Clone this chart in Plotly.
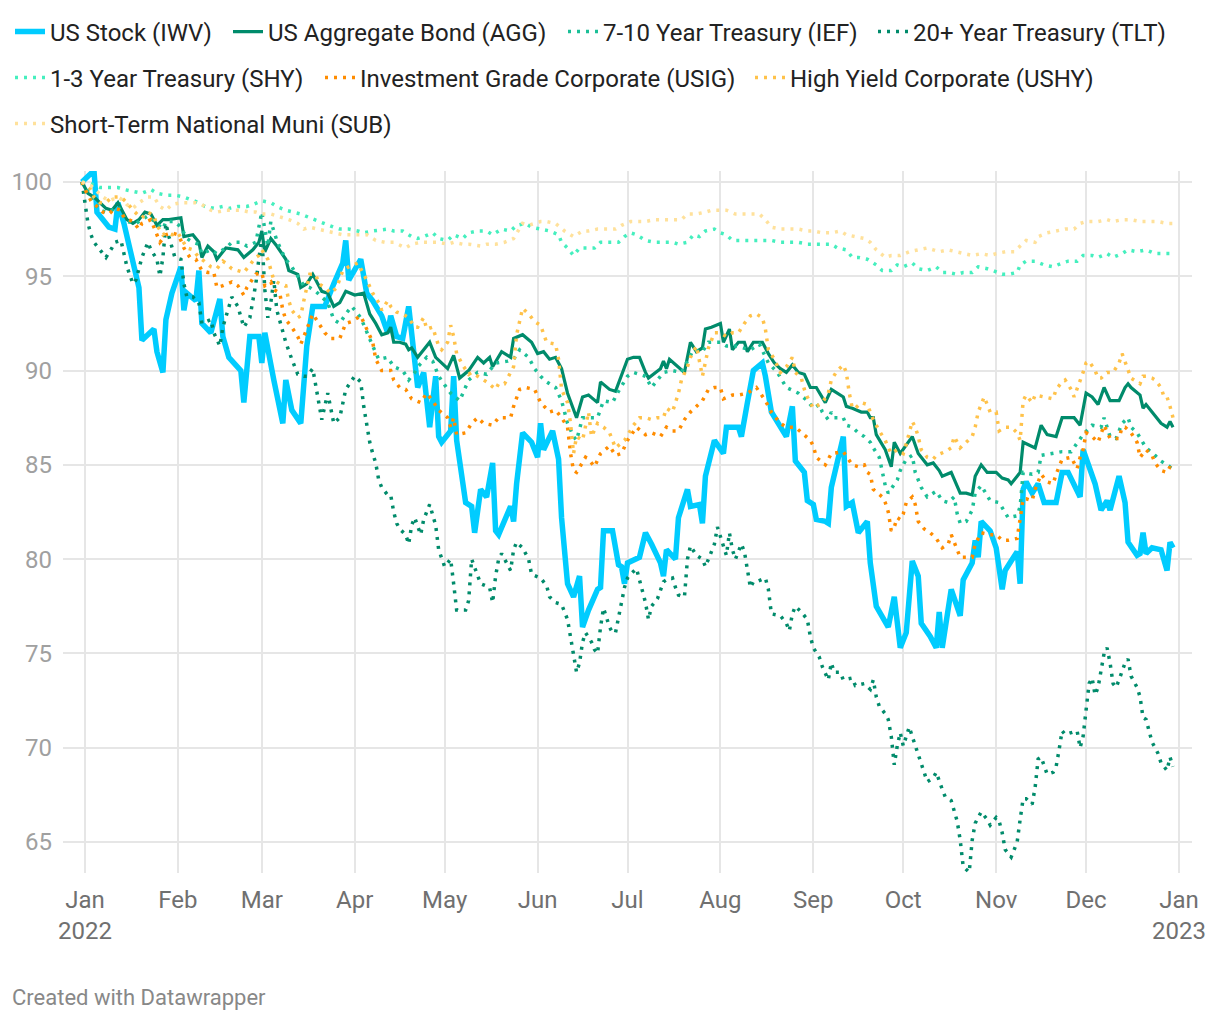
import plotly.graph_objects as go
import pandas as pd

# ---------------- DATA (day offset from 2021-12-31, indexed value) ----------------
BASE_DATE = "2021-12-31"

IWV = [(0,100),(4,100.6),(5,98.4),(9,97.6),(11,97.5),(12,98.9),(14,97.8),(17,95.9),(19,94.4),(20,91.6),
       (24,92.2),(25,91.0),(27,89.9),(28,92.7),(30,94.1),(33,95.5),(34,93.2),(35,94.1),(38,93.7),(39,95.3),
       (40,92.5),(43,92.0),(46,93.8),(47,91.8),(49,90.7),(53,90.0),(54,88.3),(56,91.8),(59,91.8),(60,90.4),
       (61,92.0),(64,89.5),(67,87.2),(68,89.5),(70,87.9),(73,87.2),(75,91.3),(77,93.4),(81,93.4),(84,94.6),
       (87,95.7),(88,96.9),(89,94.8),(93,95.9),(95,94.1),(97,93.7),(100,92.9),(102,92.0),(103,92.9),(105,91.8),
       (107,91.7),(109,93.4),(110,92.0),(112,89.1),(114,89.9),(116,87.0),(118,89.7),(119,86.5),(120,86.2),(123,86.8),
       (124,89.7),(125,86.3),(128,83.0),(130,82.8),(131,81.4),(133,83.7),(135,83.3),(137,85.1),(138,81.5),(139,81.3),
       (143,82.8),(144,82.0),(145,84.0),(147,86.7),(150,86.2),(152,85.4),(153,87.2),(154,85.8),(157,86.8),(158,85.9),
       (159,85.3),(160,82.2),(162,78.7),(164,78.0),(166,79.1),(167,76.4),(169,77.3),(172,78.4),(173,78.5),(174,81.5),
       (177,81.5),(179,79.7),(180,79.6),(181,78.7),(182,79.8),(186,80.1),(188,81.4),(190,80.8),(193,79.8),(194,79.1),
       (195,80.5),(198,80.0),(199,82.2),(202,83.7),(203,82.8),(206,82.9),(207,81.9),(208,84.4),(210,85.8),(211,86.3),
       (214,85.6),(215,87.0),(219,87.0),(220,86.5),(222,88.3),(224,90.0),(227,90.4),(228,89.7),(230,87.8),(234,86.7),
       (235,86.5),(237,88.1),(238,85.2),(241,84.6),(242,83.1),(244,82.9),(245,82.1),(248,82.0),(249,81.9),(250,83.8),
       (253,85.8),(254,86.5),(255,82.8),(257,83.0),(259,81.4),(262,82.0),(263,79.8),(265,77.5),(269,76.4),(271,78.0),
       (273,75.3),(275,76.1),(277,79.9),(279,79.1),(280,76.6),(283,75.9),(285,75.3),(286,77.2),(287,75.3),(290,78.4),
       (293,77.0),(294,78.9),(297,79.8),(298,81.0),(299,80.1),(300,82.0),(303,81.5),(305,80.6),(307,78.4),(308,79.4),
       (310,79.9),(312,80.4),(313,78.7),(314,83.7),(315,84.1),(317,83.5),(319,84.0),(321,83.0),(325,83.0),(327,84.6),
       (329,84.6),(333,83.3),(334,85.8),(335,85.4),(338,84.0),(340,82.6),(342,83.1),(343,82.6),(346,84.4),(348,83.0),
       (349,80.9),(352,80.2),(353,80.3),(354,81.4),(355,80.3),(357,80.6),(360,80.5),(362,79.4),(363,80.9),(364,80.6)]

AGG = [(0,100),(2,99.4),(4,99.2),(6,98.9),(8,98.6),(10,98.5),(12,98.9),(14,98.3),(15,98.0),(17,97.8),
       (19,98.0),(21,98.4),(23,98.3),(25,97.7),(27,98.0),(29,98.0),(33,98.1),(34,97.1),(37,97.2),(39,96.8),
       (40,96.0),(42,96.6),(44,96.3),(45,95.9),(48,96.5),(52,96.4),(54,96.0),(57,96.4),(59,96.8),(60,97.4),
       (61,96.3),(63,97.0),(65,96.6),(68,95.9),(69,95.3),(72,95.1),(73,94.4),(75,94.6),(77,95.1),(80,94.2),
       (82,94.1),(84,93.4),(86,93.6),(88,94.2),(91,94.0),(94,94.1),(96,93.0),(98,92.5),(100,91.9),(102,92.0),
       (103,92.3),(104,91.5),(106,91.5),(108,91.4),(109,91.1),(110,91.2),(112,90.7),(114,91.1),(116,91.5),(118,90.7),
       (122,90.1),(124,90.8),(126,89.6),(129,90.0),(132,90.7),(134,90.4),(136,90.7),(137,90.2),(140,91.0),(143,90.7),
       (144,91.7),(147,91.9),(150,91.5),(152,90.9),(154,91.0),(156,90.6),(158,90.7),(160,90.1),(162,88.8),(165,87.5),
       (167,88.6),(169,88.7),(172,88.3),(173,89.4),(176,89.0),(178,88.9),(180,89.7),(182,90.6),(184,90.7),(186,90.7),
       (188,89.9),(189,89.6),(193,90.1),(194,90.5),(195,90.1),(196,90.6),(201,89.9),(203,91.5),(205,91.0),(207,91.2),
       (208,92.2),(210,92.3),(213,92.5),(214,91.5),(216,92.2),(217,91.1),(219,91.5),(221,91.5),(222,91.0),(224,91.5),
       (227,91.5),(229,90.9),(231,90.4),(233,90.1),(235,89.9),(237,90.3),(239,89.9),(241,89.8),(243,89.1),(245,89.1),
       (248,88.3),(250,89.0),(254,88.6),(255,88.1),(257,88.0),(260,87.8),(262,87.8),(263,87.5),(264,87.5),(265,86.6),
       (268,85.8),(269,85.3),(270,84.9),(271,86.2),(273,85.6),(277,86.5),(279,85.6),(280,85.4),(282,85.0),(284,85.1),
       (286,84.7),(287,84.4),(290,84.6),(293,83.5),(295,83.5),(297,83.4),(298,84.4),(300,85.0),(302,84.6),(305,84.6),
       (307,84.3),(309,84.2),(310,84.0),(312,84.4),(313,84.6),(314,86.2),(318,85.9),(320,87.1),(322,86.6),(325,86.5),
       (327,87.5),(331,87.5),(333,87.1),(335,88.8),(337,88.6),(339,88.2),(341,89.1),(343,88.4),(346,88.4),(348,89.1),
       (349,89.3),(350,89.1),(353,88.7),(354,88.0),(355,88.2),(358,87.6),(360,87.2),(362,87.0),(363,87.3),(364,87.0)]

IEF = [(0,100),(2,99.5),(4,98.9),(6,98.5),(8,98.4),(10,98.5),(12,98.7),(14,98.1),(15,97.9),(18,97.8),
       (22,98.2),(25,97.8),(27,97.5),(28,97.9),(31,97.9),(33,97.6),(35,97.0),(37,96.8),(39,96.7),(40,96.2),
       (43,96.4),(45,96.2),(48,96.5),(50,96.8),(53,96.8),(55,96.6),(58,96.8),(60,98.4),(62,96.6),(63,97.9),
       (65,96.9),(67,96.2),(68,95.9),(70,95.5),(72,95.0),(74,94.5),(76,94.4),(78,94.2),(80,93.9),(82,93.6),
       (84,92.7),(86,92.5),(88,93.0),(90,93.4),(93,92.8),(95,92.0),(97,91.3),(99,90.6),(102,90.7),(104,90.2),
       (107,90.0),(109,89.5),(111,89.9),(112,90.2),(115,90.7),(117,90.5),(119,89.7),(122,89.0),(123,88.8),(126,88.4),
       (129,89.5),(132,89.9),(135,89.8),(138,90.4),(142,90.5),(144,90.6),(146,91.1),(149,90.7),(151,90.1),(153,89.7),
       (155,89.4),(158,89.1),(160,88.4),(162,87.2),(164,86.5),(165,86.3),(167,87.5),(169,87.5),(172,87.5),(174,88.4),
       (177,88.3),(179,88.9),(182,89.7),(184,89.9),(188,89.7),(190,89.1),(194,89.9),(197,90.0),(200,89.9),(204,91.1),
       (207,91.0),(209,91.5),(213,91.5),(215,91.3),(218,91.3),(223,91.1),(226,91.4),(229,90.4),(232,89.9),(235,89.1),
       (239,88.8),(242,88.4),(244,88.0),(246,88.2),(247,87.8),(249,87.4),(250,87.8),(251,87.5),(254,87.5),(255,87.1),
       (257,87.0),(259,86.7),(261,86.5),(263,86.2),(264,85.9),(266,85.4),(267,84.7),(268,83.9),(269,83.5),(272,84.2),
       (273,84.7),(275,85.3),(277,85.5),(278,84.6),(280,83.8),(282,83.3),(285,83.6),(287,83.1),(289,83.0),(291,83.3),
       (292,82.4),(293,81.9),(295,82.0),(297,82.6),(298,83.5),(300,83.9),(303,83.1),(306,83.0),(309,82.2),(312,82.3),
       (313,82.8),(314,84.6),(317,84.5),(319,84.6),(320,85.5),(327,85.7),(330,85.7),(334,86.6),(337,87.1),(340,87.0),
       (341,87.5),(343,86.5),(345,86.4),(347,87.2),(349,87.5),(350,87.0),(352,86.7),(354,86.2),(355,85.9),(358,85.5),
       (360,85.2),(363,84.9),(364,85.1)]

TLT = [(0,100),(1,99.0),(2,97.8),(3,97.2),(4,96.8),(6,96.4),(8,96.0),(10,96.5),(11,96.8),(13,96.9),
       (14,96.2),(15,95.5),(17,94.6),(18,94.8),(20,96.0),(22,96.8),(23,96.4),(25,95.9),(26,95.0),(27,96.0),
       (28,97.8),(29,97.1),(31,96.0),(33,95.9),(34,94.6),(35,93.9),(37,93.9),(39,93.6),(40,92.5),(43,92.7),
       (44,92.0),(46,91.3),(47,92.3),(49,93.4),(50,93.9),(52,93.4),(54,92.3),(56,92.8),(57,93.7),(58,94.6),
       (59,95.9),(60,97.1),(61,94.3),(62,92.8),(63,93.6),(64,94.8),(65,93.2),(67,92.0),(68,91.5),(70,90.6),
       (72,89.8),(74,89.7),(75,89.7),(77,90.1),(79,88.4),(80,87.4),(82,88.8),(84,87.2),(86,87.5),(88,89.0),
       (91,89.7),(93,89.4),(94,88.1),(95,87.0),(96,86.2),(97,85.6),(98,85.1),(99,84.2),(100,83.8),(102,83.4),
       (103,83.4),(104,82.5),(105,81.9),(106,81.6),(108,81.3),(109,80.8),(110,81.8),(111,82.2),(112,81.8),(113,81.3),
       (114,82.1),(116,82.9),(118,81.8),(119,80.5),(121,79.6),(123,80.0),(124,78.7),(125,77.3),(128,77.3),(129,77.8),
       (130,80.0),(132,79.1),(133,78.7),(136,78.5),(137,77.7),(138,79.1),(139,80.0),(140,80.3),(142,79.7),(143,79.4),
       (144,80.5),(145,80.9),(147,80.6),(149,80.0),(150,79.2),(153,79.0),(155,78.6),(156,78.0),(158,77.7),(160,77.6),
       (162,76.8),(163,75.8),(164,74.8),(165,74.0),(166,74.5),(167,75.6),(168,76.1),(170,75.6),(171,75.2),(172,75.0),
       (173,76.4),(174,77.4),(175,76.9),(176,76.4),(177,76.1),(178,76.1),(179,76.9),(180,77.8),(181,78.5),(182,79.0),
       (183,79.2),(185,79.5),(187,78.2),(188,77.7),(189,76.8),(190,77.5),(192,77.9),(193,78.4),(194,78.8),(195,78.9),
       (197,79.0),(198,78.5),(199,78.1),(201,78.0),(202,80.0),(203,80.7),(205,80.2),(207,80.0),(208,79.6),(209,80.0),
       (211,80.8),(212,81.7),(213,81.2),(214,80.6),(215,80.2),(216,81.4),(217,80.5),(218,80.0),(219,80.4),(220,80.8),
       (221,80.4),(222,79.4),(223,78.5),(224,78.8),(225,78.8),(228,79.0),(229,78.4),(230,77.1),(233,77.0),(235,76.6),
       (236,76.2),(237,77.1),(238,77.5),(240,77.2),(242,76.8),(243,75.9),(244,75.3),(246,74.8),(247,74.3),(249,73.6),
       (250,74.5),(251,74.0),(253,74.0),(254,73.6),(257,73.7),(258,73.3),(261,73.4),(263,73.1),(264,73.6),(265,72.7),
       (266,72.2),(268,71.8),(269,71.5),(270,70.6),(271,69.1),(272,70.1),(273,70.8),(274,70.1),(275,70.6),(276,71.1),
       (277,70.6),(279,69.6),(280,69.2),(281,68.7),(282,68.2),(284,68.4),(285,68.7),(287,67.8),(288,67.4),(290,67.2),
       (292,66.1),(293,65.1),(294,63.7),(296,63.4),(297,65.1),(298,66.0),(300,66.6),(302,66.2),(303,65.9),(305,66.3),
       (306,66.1),(307,65.5),(308,64.6),(310,64.2),(312,65.0),(313,66.2),(314,67.3),(315,67.3),(317,67.0),(318,67.9),
       (319,69.4),(320,69.5),(322,68.6),(324,68.7),(325,69.0),(326,69.9),(327,70.9),(328,70.7),(332,70.9),(333,70.0),
       (334,70.6),(335,72.0),(336,73.4),(337,73.7),(338,72.8),(339,73.2),(340,74.0),(341,75.0),(342,75.3),(343,74.5),
       (344,73.4),(345,73.2),(346,73.6),(348,74.5),(349,74.7),(350,73.8),(352,73.2),(353,72.7),(354,71.6),(355,71.5),
       (357,70.3),(359,69.7),(360,69.2),(362,68.8),(363,69.5),(364,69.0)]

SHY = [(0,100),(3,99.9),(6,99.7),(12,99.7),(14,99.6),(17,99.5),(20,99.4),(23,99.6),(25,99.4),(28,99.3),
       (31,99.3),(34,99.2),(37,99.0),(39,98.9),(41,98.7),(44,98.6),(47,98.7),(49,98.6),(52,98.7),(55,98.7),
       (57,98.8),(60,99.0),(63,98.9),(65,98.7),(68,98.5),(71,98.4),(73,98.3),(76,98.1),(79,97.9),(82,97.7),
       (84,97.6),(86,97.5),(89,97.5),(92,97.4),(94,97.3),(97,97.4),(102,97.5),(104,97.4),(107,97.4),(110,97.1),
       (112,97.0),(114,97.1),(117,97.3),(119,97.0),(122,96.9),(124,97.2),(127,97.0),(129,97.3),(132,97.4),(135,97.4),
       (137,97.2),(140,97.5),(143,97.4),(145,97.7),(148,97.8),(150,97.6),(153,97.5),(156,97.4),(159,97.2),(160,96.8),
       (162,96.5),(164,96.1),(166,96.5),(168,96.5),(171,96.5),(173,96.8),(176,96.8),(179,96.8),(181,97.1),(183,97.3),
       (185,97.2),(188,96.9),(191,96.8),(194,96.8),(197,96.8),(199,96.7),(202,96.8),(204,97.2),(206,97.1),(208,97.4),
       (211,97.5),(213,97.3),(215,97.2),(217,96.9),(219,96.9),(222,96.9),(225,96.9),(228,96.9),(230,96.9),(233,96.8),
       (236,96.8),(239,96.8),(242,96.7),(244,96.7),(247,96.7),(250,96.7),(252,96.5),(255,96.4),(257,96.0),(259,96.0),
       (262,95.9),(265,95.6),(267,95.3),(270,95.3),(272,95.6),(274,95.5),(277,95.7),(279,95.4),(282,95.3),(285,95.5),
       (287,95.2),(289,95.2),(292,95.1),(294,95.2),(297,95.2),(299,95.5),(302,95.4),(304,95.3),(307,95.1),(309,95.1),
       (312,95.2),(313,95.6),(315,95.8),(318,95.8),(321,95.6),(324,95.5),(327,95.7),(329,95.8),(332,95.8),(334,96.1),
       (337,96.1),(339,96.0),(342,96.2),(344,96.0),(347,96.2),(349,96.4),(352,96.3),(355,96.4),(358,96.2),(360,96.2),
       (364,96.2)]

USIG = [(0,100),(1,99.6),(3,99.0),(5,98.7),(7,98.4),(9,98.3),(11,98.6),(13,98.5),(14,98.1),(17,97.9),
        (19,97.5),(20,97.8),(23,98.0),(24,97.6),(26,96.8),(28,97.2),(30,97.3),(32,97.2),(33,96.9),(34,96.5),
        (36,96.0),(38,95.9),(40,95.3),(42,95.2),(44,95.2),(45,94.4),(47,94.5),(50,94.7),(52,94.5),(54,94.0),
        (55,94.4),(58,95.1),(60,95.2),(61,94.5),(63,94.7),(64,94.3),(66,94.1),(67,93.2),(68,92.7),(70,92.3),
        (72,91.8),(73,91.4),(74,91.8),(77,93.0),(79,92.5),(81,92.0),(83,91.7),(86,91.7),(88,92.5),(90,92.6),
        (93,92.9),(95,92.2),(97,91.5),(98,90.6),(100,90.0),(103,90.0),(104,89.5),(106,89.1),(108,89.0),(110,88.5),
        (113,88.3),(115,88.8),(117,88.4),(119,87.9),(122,87.5),(123,87.0),(124,87.5),(125,86.6),(128,86.7),(130,87.2),
        (132,87.5),(134,87.2),(137,87.1),(139,87.5),(141,87.5),(143,87.5),(144,88.1),(145,88.5),(146,89.0),(148,89.1),
        (151,89.0),(153,88.3),(156,87.8),(158,87.9),(160,87.5),(162,87.0),(163,85.6),(164,84.7),(165,84.6),(168,85.4),
        (169,85.3),(171,84.9),(173,85.6),(176,86.0),(178,85.5),(180,85.6),(182,86.3),(185,87.0),(188,86.6),(190,86.7),
        (193,86.5),(195,87.0),(197,86.8),(199,86.8),(201,87.4),(203,87.8),(205,88.1),(207,88.4),(209,89.0),(211,89.1),
        (213,89.1),(214,88.5),(217,88.7),(219,88.7),(222,88.8),(224,89.0),(225,89.1),(228,88.4),(230,87.8),(233,87.2),
        (235,87.0),(238,87.0),(240,86.7),(243,86.3),(244,86.0),(245,85.4),(248,85.0),(250,85.6),(254,85.7),(257,85.0),
        (259,84.9),(261,85.0),(262,84.6),(263,84.5),(264,83.7),(267,83.3),(268,83.0),(269,82.5),(270,81.5),(271,81.7),
        (272,82.2),(273,82.1),(274,82.4),(275,83.0),(277,83.3),(278,82.9),(279,82.0),(281,81.6),(283,81.4),(285,81.1),
        (287,80.6),(289,80.8),(290,81.3),(292,80.5),(293,80.1),(295,80.1),(297,80.1),(298,80.8),(299,81.1),(300,81.4),
        (303,81.3),(305,81.3),(307,81.0),(309,81.0),(312,81.1),(313,82.2),(314,83.2),(315,83.2),(317,83.1),(318,83.7),
        (320,84.5),(322,84.1),(324,84.0),(325,84.5),(327,85.3),(330,85.4),(332,84.8),(333,85.4),(334,85.8),(335,86.7),
        (337,86.5),(339,86.2),(340,86.7),(341,87.1),(343,86.4),(346,86.4),(347,87.0),(348,87.0),(350,86.7),(352,86.2),
        (353,85.4),(355,85.8),(357,85.5),(358,85.1),(360,84.7),(362,84.6),(363,84.9),(364,84.6)]

USHY = [(0,100),(3,99.6),(4,99.2),(6,98.9),(8,98.9),(10,99.2),(12,99.2),(13,99.2),(15,98.9),(17,98.5),
        (19,98.2),(20,98.1),(22,98.4),(24,98.2),(25,97.7),(27,97.2),(28,97.3),(30,97.2),(32,97.3),(34,96.8),
        (35,96.5),(37,96.4),(39,96.0),(40,95.9),(43,95.5),(45,95.4),(47,95.8),(48,95.7),(50,95.4),(52,95.3),
        (54,95.2),(56,95.6),(58,96.0),(59,96.1),(60,96.4),(62,95.9),(63,95.3),(64,94.8),(66,94.6),(68,94.5),
        (69,93.7),(70,93.2),(72,92.8),(73,92.9),(74,93.7),(76,95.1),(78,95.1),(79,94.6),(81,94.4),(83,94.1),
        (85,94.4),(87,95.3),(89,95.5),(92,95.7),(95,94.8),(97,94.1),(99,93.6),(100,93.2),(102,93.7),(103,93.4),
        (105,93.1),(107,93.0),(109,92.8),(111,92.3),(112,92.3),(114,92.8),(115,92.2),(117,92.3),(119,91.3),(120,91.1),
        (122,91.5),(123,92.4),(124,91.8),(125,90.9),(127,90.3),(129,89.8),(130,89.9),(133,89.6),(135,89.4),(138,89.0),
        (139,89.3),(141,89.3),(144,90.2),(145,91.9),(147,93.3),(149,93.0),(151,92.6),(153,92.4),(155,91.5),(158,91.4),
        (159,90.6),(160,89.0),(162,88.3),(163,87.2),(164,85.6),(165,86.5),(167,86.3),(169,87.8),(170,86.5),(172,87.2),
        (174,87.0),(176,86.7),(178,85.9),(181,86.3),(184,87.1),(186,87.5),(188,87.5),(190,87.4),(192,87.5),(194,87.5),
        (195,88.0),(197,87.8),(198,88.3),(199,88.8),(200,89.5),(202,90.2),(203,90.7),(205,91.3),(207,89.7),(208,90.5),
        (209,91.2),(211,92.0),(213,92.0),(215,91.8),(217,92.0),(219,92.0),(221,92.5),(223,92.9),(225,93.0),(227,92.8),
        (228,92.2),(229,91.1),(231,90.6),(233,89.9),(235,90.2),(237,90.7),(238,89.9),(240,89.6),(241,89.0),(242,88.6),
        (244,88.0),(247,88.3),(249,88.8),(250,89.5),(252,90.0),(254,90.3),(255,89.9),(256,88.8),(257,88.0),(258,88.0),
        (260,88.3),(262,88.2),(263,87.8),(264,87.4),(266,86.8),(268,86.3),(269,85.9),(270,85.6),(272,85.8),(274,85.6),
        (275,86.1),(277,87.3),(278,87.0),(279,86.5),(280,85.8),(282,85.4),(284,85.3),(285,85.5),(288,85.7),(290,85.9),
        (291,86.5),(293,85.9),(295,86.2),(297,86.5),(298,87.0),(299,87.8),(301,88.6),(302,88.2),(303,87.8),(305,87.8),
        (306,86.8),(308,87.0),(310,87.0),(312,86.7),(313,86.3),(314,88.4),(315,88.7),(317,88.3),(318,88.7),(321,88.6),
        (324,88.5),(325,89.0),(327,89.4),(328,89.5),(330,89.0),(331,88.6),(332,89.0),(333,89.4),(334,89.9),(335,90.4),
        (336,90.5),(338,90.0),(339,89.6),(340,89.6),(342,89.9),(344,89.9),(346,90.4),(347,90.9),(348,90.5),(349,90.0),
        (350,89.6),(353,89.3),(354,89.7),(355,89.7),(357,89.6),(358,89.5),(360,89.1),(361,88.6),(362,88.6),(363,88.1),
        (364,87.5)]

SUB = [(0,100),(3,99.8),(5,99.5),(7,99.2),(9,99.0),(12,99.2),(14,99.0),(15,98.8),(17,98.6),(19,98.9),
       (22,99.2),(24,99.2),(26,98.7),(28,98.5),(30,98.8),(33,98.9),(36,98.9),(38,98.9),(40,98.8),(43,98.5),
       (45,98.4),(48,98.5),(50,98.5),(53,98.5),(56,98.4),(58,98.4),(60,98.3),(63,98.3),(65,98.2),(67,98.1),
       (69,98.0),(72,97.8),(74,97.5),(76,97.6),(79,97.5),(82,97.4),(84,97.3),(87,97.2),(90,97.2),(93,97.2),
       (95,97.2),(98,96.9),(101,96.8),(104,96.8),(107,96.6),(108,96.5),(110,96.7),(113,96.8),(116,96.8),(119,96.8),
       (122,96.7),(124,96.8),(127,96.7),(129,96.7),(133,96.6),(135,96.7),(138,96.7),(141,96.8),(144,97.0),(147,97.8),
       (149,97.7),(153,97.9),(155,97.9),(158,97.8),(161,97.4),(164,97.1),(167,97.4),(169,97.4),(172,97.5),(175,97.5),
       (178,97.5),(180,97.7),(183,97.9),(185,97.9),(188,97.9),(191,98.0),(194,98.0),(197,98.0),(200,98.0),(202,98.3),
       (205,98.3),(208,98.4),(210,98.5),(213,98.5),(215,98.5),(218,98.3),(220,98.3),(223,98.3),(226,98.3),(228,98.0),
       (230,97.6),(233,97.5),(236,97.5),(239,97.5),(242,97.4),(244,97.4),(247,97.3),(250,97.3),(253,97.4),(255,97.2),
       (258,97.1),(261,97.0),(263,96.8),(265,96.4),(268,96.0),(270,96.1),(273,96.1),(276,96.3),(279,96.4),(282,96.5),
       (284,96.4),(286,96.3),(289,96.4),(292,96.3),(294,96.2),(297,96.1),(300,96.2),(303,96.1),(305,96.2),(308,96.3),
       (311,96.3),(313,96.6),(315,96.9),(318,96.8),(319,97.1),(322,97.3),(325,97.4),(328,97.5),(331,97.5),(333,97.8),
       (335,97.9),(339,97.9),(342,98.0),(344,97.9),(347,98.0),(350,98.0),(353,97.9),(355,97.9),(359,97.9),(362,97.8),
       (364,97.8)]

SERIES_NAMES = ["US Stock (IWV)", "US Aggregate Bond (AGG)", "7-10 Year Treasury (IEF)",
                "20+ Year Treasury (TLT)", "1-3 Year Treasury (SHY)",
                "Investment Grade Corporate (USIG)", "High Yield Corporate (USHY)",
                "Short-Term National Muni (SUB)"]
SERIES_DATA = [IWV, AGG, IEF, TLT, SHY, USIG, USHY, SUB]

MONTH_TICKS = ["2022-01-01", "2022-02-01", "2022-03-01", "2022-04-01", "2022-05-01", "2022-06-01",
               "2022-07-01", "2022-08-01", "2022-09-01", "2022-10-01", "2022-11-01", "2022-12-01",
               "2023-01-01"]
MONTH_LABELS = ["Jan<br>2022", "Feb", "Mar", "Apr", "May", "Jun", "Jul", "Aug", "Sep", "Oct",
                "Nov", "Dec", "Jan<br>2023"]
Y_TICKS = [65, 70, 75, 80, 85, 90, 95, 100]

# ---------------- STYLE ----------------
FONT = "Roboto"
DOT = "3px,6px"
STYLES = [
    dict(color="#00CCFF", width=5.5, dash="solid"),
    dict(color="#008B6B", width=3.2, dash="solid"),
    dict(color="#1BBF97", width=3.5, dash=DOT),
    dict(color="#008B6B", width=3.5, dash=DOT),
    dict(color="#45EFBE", width=3.5, dash=DOT),
    dict(color="#FF8C00", width=3.5, dash=DOT),
    dict(color="#FFC24A", width=3.5, dash=DOT),
    dict(color="#FFE19B", width=3.5, dash=DOT),
]

# The page body adds an 8px offset; the figure is sized so that its
# plot area sits where the reference one does inside the 1220x1020 window.
OFF = 8
W, H = 1220 - OFF, 1020 - OFF
# reference legend text left edge (px) and row centre (px), per series
LEGEND_TEXT_POS = [(50, 32), (268, 32), (603, 32), (913, 32),
                   (50, 78), (360, 78), (790, 78),
                   (50, 124)]
TEXT_GAP = 40  # plotly: legend text starts itemwidth(30)+10 px after legend x

base = pd.Timestamp(BASE_DATE)

fig = go.Figure()
layout_legends = {}
for i, (name, data, st) in enumerate(zip(SERIES_NAMES, SERIES_DATA, STYLES)):
    days = [d for d, _ in data]
    vals = [v for _, v in data]
    dates = base + pd.to_timedelta(days, unit="D")
    key = "legend" if i == 0 else f"legend{i + 1}"
    fig.add_trace(go.Scatter(
        x=dates, y=vals, mode="lines", name=name,
        line=dict(color=st["color"], width=st["width"], dash=st["dash"], shape="linear"),
        legend=key, showlegend=True,
    ))
    tx, ty = LEGEND_TEXT_POS[i]
    lx = max(tx - OFF - TEXT_GAP, 0)
    ly = ty - OFF
    layout_legends[key] = dict(
        x=lx / W, y=1 - ly / H, xref="container", yref="container",
        xanchor="left", yanchor="middle", orientation="h",
        font=dict(family=FONT, size=24, color="#222222"),
        bgcolor="rgba(0,0,0,0)", borderwidth=0,
    )

PLOT_L, PLOT_R, PLOT_T, PLOT_B = 63, 1192, 171, 873
fig.update_layout(
    width=W, height=H,
    paper_bgcolor="white", plot_bgcolor="white",
    margin=dict(l=PLOT_L - OFF, r=(W + OFF) - PLOT_R, t=PLOT_T - OFF, b=(H + OFF) - PLOT_B,
                pad=0, autoexpand=False),
    font=dict(family=FONT, size=24, color="#222222"),
    showlegend=True,
    hovermode=False,
    **layout_legends,
)

fig.update_xaxes(
    type="date",
    range=["2021-12-24 16:00", "2023-01-05 08:00"],
    tickmode="array", tickvals=MONTH_TICKS, ticktext=MONTH_LABELS,
    showgrid=True, gridcolor="#E6E6E6", gridwidth=2,
    zeroline=False, showline=False, ticks="",
    tickfont=dict(family=FONT, size=24, color="#707070"),
    ticklabelstandoff=10, automargin=False,
    fixedrange=True,
)
fig.update_yaxes(
    range=[63.36, 100.58],
    tickmode="array", tickvals=Y_TICKS, ticktext=[str(t) for t in Y_TICKS],
    showgrid=True, gridcolor="#E6E6E6", gridwidth=2,
    zeroline=False, showline=False, ticks="",
    tickfont=dict(family=FONT, size=24, color="#A0A0A0"),
    ticklabelstandoff=10, automargin=False,
    fixedrange=True,
)

fig.add_annotation(
    text="Created with Datawrapper", xref="paper", yref="paper",
    x=-(PLOT_L - 10) / (PLOT_R - PLOT_L), y=-(997 - PLOT_B) / (PLOT_B - PLOT_T),
    xanchor="left", yanchor="middle", showarrow=False,
    font=dict(family=FONT, size=22, color="#888888"),
)

fig.write_html("out.html", config={"displayModeBar": False})
